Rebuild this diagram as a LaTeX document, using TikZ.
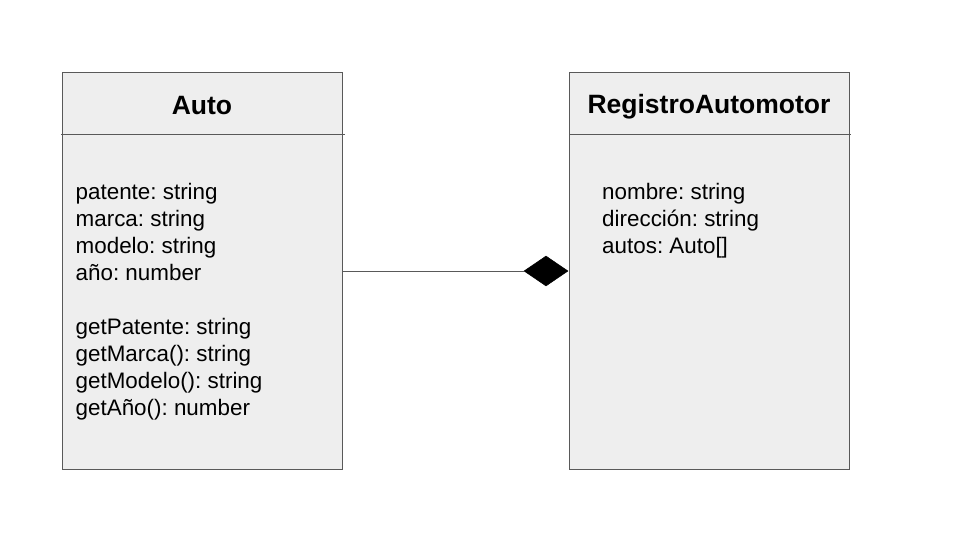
\documentclass[tikz,border=0pt]{standalone}
\usepackage{fontspec}
\setmainfont{Liberation Sans}
\usetikzlibrary{shapes.geometric}
\definecolor{boxfill}{HTML}{EEEEEE}
\definecolor{boxline}{HTML}{595959}
\frenchspacing
\tikzset{
  classbox/.style={draw=boxline, fill=boxfill, line width=1pt, minimum width=280pt, minimum height=396pt, inner sep=0pt},
  divider/.style={draw=boxline, line width=0.9pt},
  title/.style={font=\bfseries\fontsize{26.5}{30}\selectfont, anchor=base, inner sep=0pt},
  attr/.style={font=\frenchspacing\fontsize{22.4}{27}\selectfont, anchor=base west, inner sep=0pt},
  conn/.style={draw=boxline, line width=0.9pt},
  compo/.style={diamond, fill=black, draw=black, line width=0.5pt, minimum width=44pt, minimum height=30pt, inner sep=0pt}
}
\begin{document}
\begin{tikzpicture}[x=1pt,y=-1pt]
\useasboundingbox (0,0) rectangle (960,540);
\fill[white] (0,0) rectangle (960,540);
% Auto class
\node[classbox] (auto) at (202,271) {};
\coordinate (adl) at (61,134);
\coordinate (adr) at (345,134);
\draw[divider] (adl) -- (adr);
\node[title] (autot) at (202,115) {Auto};
\node[attr] (a1) at (75.5,199) {patente: string};
\node[attr] (a2) at (75.5,226.3) {marca: string};
\node[attr] (a3) at (75.5,253.6) {modelo: string};
\node[attr] (a4) at (75.5,280.9) {año: number};
\node[attr] (m1) at (75.5,334) {getPatente: string};
\node[attr] (m2) at (75.5,361.3) {getMarca(): string};
\node[attr] (m3) at (75.5,388.6) {getModelo(): string};
\node[attr] (m4) at (75.5,415.9) {getAño(): number};
% RegistroAutomotor class
\node[classbox] (reg) at (709.5,271) {};
\coordinate (rdl) at (569,134);
\coordinate (rdr) at (851,134);
\draw[divider] (rdl) -- (rdr);
\node[title] (regt) at (709,113.5) {RegistroAutomotor};
\node[attr] (r1) at (602,199) {nombre: string};
\node[attr] (r2) at (602,226.3) {dirección: string};
\node[attr] (r3) at (602,253.6) {autos: Auto[]};
% composition
\node[compo] (dia) at (546,271) {};
\draw[conn] (auto.east) -- (dia.west);
\end{tikzpicture}
\end{document}
